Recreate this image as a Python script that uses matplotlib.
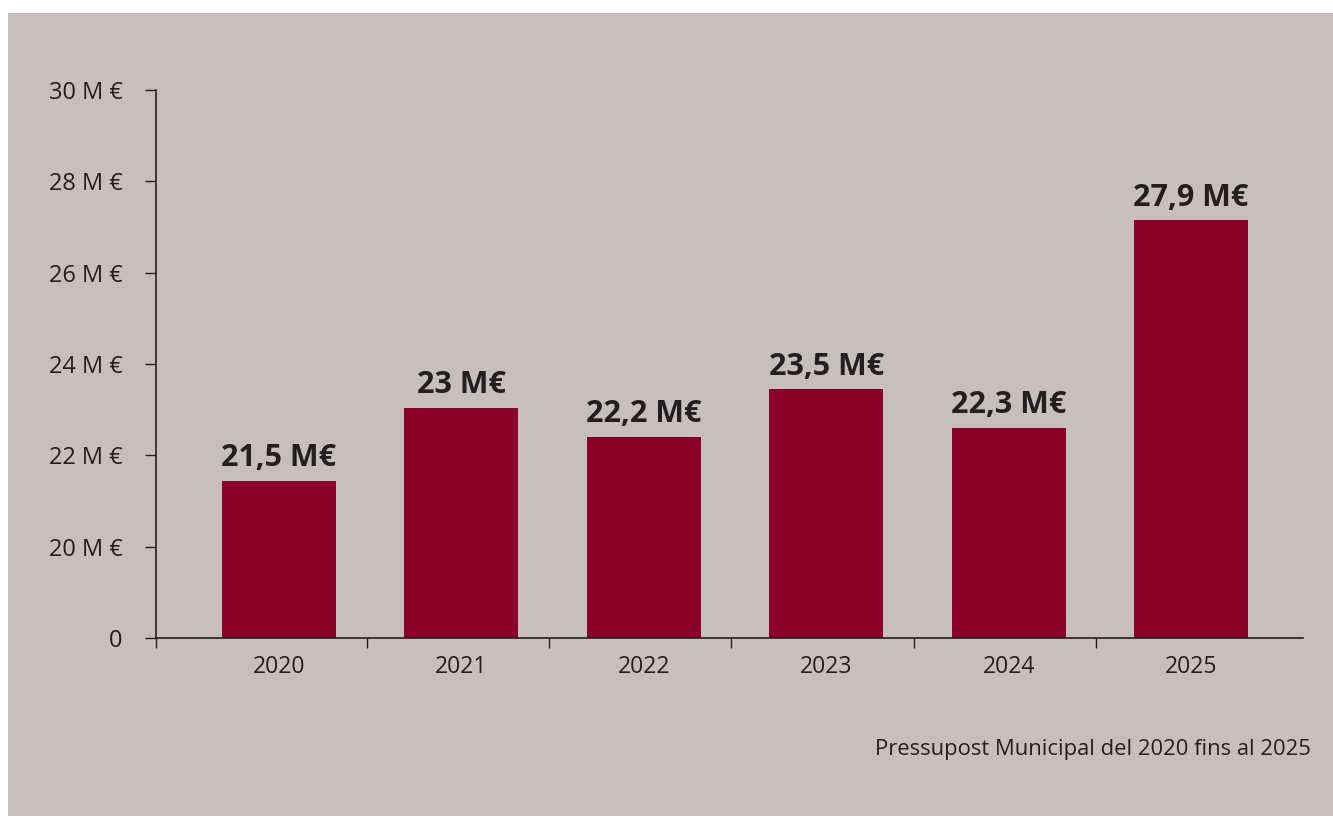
import matplotlib
matplotlib.use("Agg")
import matplotlib.pyplot as plt
from matplotlib.patches import Rectangle
import numpy as np

years = ["2020", "2021", "2022", "2023", "2024", "2025"]
values = [21.44, 23.04, 22.40, 23.45, 22.60, 27.15]   # bar heights as drawn (M€)
value_labels = ["21,5 M€", "23 M€", "22,2 M€", "23,5 M€", "22,3 M€", "27,9 M€"]
y_ticks = [18, 20, 22, 24, 26, 28, 30]
y_tick_labels = ["0", "20 M €", "22 M €", "24 M €", "26 M €", "28 M €", "30 M €"]
caption = "Pressupost Municipal del 2020 fins al 2025"

BG = "#c6bfbd"
BAR = "#8a0029"
TXT = "#231f20"
FONT = "Open Sans"

W, H = 1333, 816
fig = plt.figure(figsize=(W / 100, H / 100), dpi=100)
fig.patch.set_facecolor("white")

bg = fig.add_axes([0, 0, 1, 1], zorder=-10)
bg.set_xlim(0, 1)
bg.set_ylim(0, 1)
bg.axis("off")
bg.add_patch(Rectangle((8 / W, 0), 1 - 8 / W, 1 - 13 / H,
                       facecolor=BG, edgecolor="none"))

ax = fig.add_axes([156 / W, (H - 638) / H, (1303 - 156) / W, (638 - 90) / H], zorder=1)
ax.set_facecolor("none")

x = np.arange(len(years))
ax.bar(x, values, width=0.625, color=BAR, zorder=2)

for xi, v, lab in zip(x, values, value_labels):
    ax.annotate(lab, (xi, v), xytext=(0, 10.5), textcoords="offset points",
                ha="center", va="baseline", fontsize=22, fontweight="bold",
                color=TXT, family=FONT)

ax.set_ylim(18, 30)
ax.set_xlim(-0.674, 5.614)
ax.set_yticks(y_ticks)
ax.set_yticklabels(y_tick_labels, family=FONT, fontsize=17, color=TXT)
ax.set_xticks(x)
ax.set_xticklabels(years, family=FONT, fontsize=16.5, color=TXT)
ax.set_xticks(np.concatenate([[-0.674], x[:-1] + 0.48]), minor=True)

ax.tick_params(axis="y", direction="out", length=8, width=1, color=TXT, pad=16)
ax.tick_params(axis="x", which="major", length=0, pad=12)
ax.tick_params(axis="x", which="minor", direction="out", length=7.4, width=1, color=TXT)

for s in ["top", "right"]:
    ax.spines[s].set_visible(False)
for s in ["left", "bottom"]:
    ax.spines[s].set_color(TXT)
    ax.spines[s].set_linewidth(1.2)

fig.text(1311 / W, 1 - 750 / H, caption, ha="right", va="center",
         fontsize=15.8, color=TXT, family=FONT)

fig.savefig("out.png", dpi=100, facecolor=fig.get_facecolor())
